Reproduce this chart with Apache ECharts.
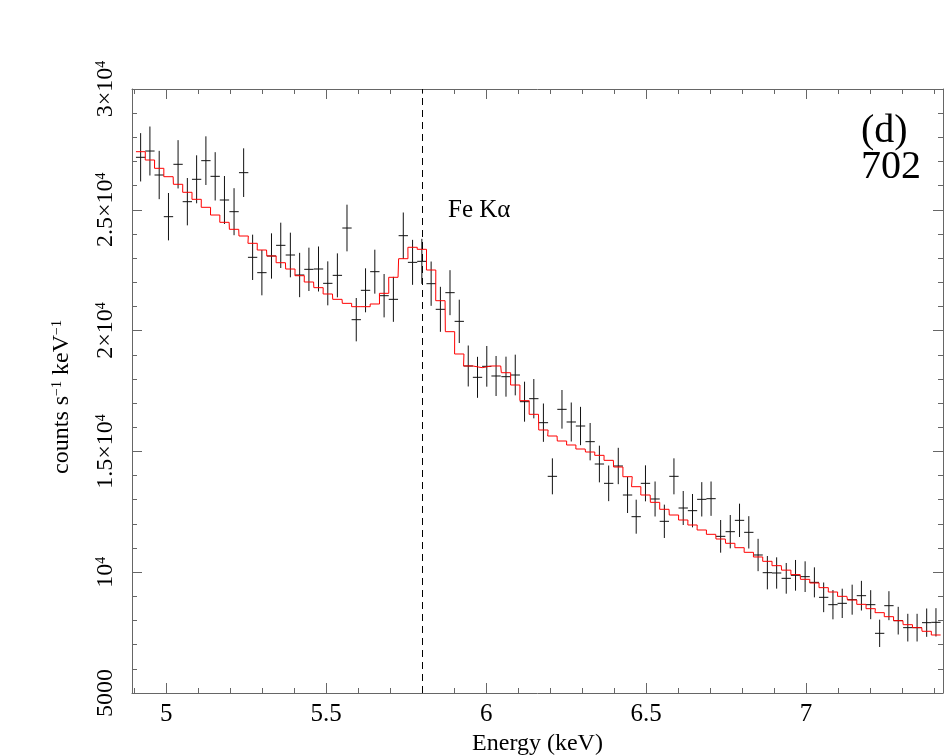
<!DOCTYPE html>
<html>
<head>
<meta charset="utf-8">
<script src="https://cdn.jsdelivr.net/npm/echarts@6/dist/echarts.min.js"></script>
<style>
  html, body { margin: 0; padding: 0; background: #fff; }
  #main { width: 945px; height: 756px; }
</style>
</head>
<body>
<div id="main"></div>
<script>
// spectrum bins (keV)
var energies = [4.920, 4.949, 4.978, 5.007, 5.037, 5.066, 5.095, 5.124, 5.153, 5.182,
  5.212, 5.242, 5.270, 5.299, 5.329, 5.358, 5.388, 5.417, 5.446, 5.476,
  5.505, 5.535, 5.565, 5.594, 5.623, 5.652, 5.681, 5.710, 5.741, 5.770,
  5.799, 5.828, 5.857, 5.887, 5.916, 5.944, 5.973, 6.002, 6.031, 6.062,
  6.091, 6.120, 6.149, 6.179, 6.207, 6.237, 6.266, 6.295, 6.325, 6.354,
  6.383, 6.413, 6.442, 6.469, 6.498, 6.528, 6.557, 6.587, 6.616, 6.645,
  6.674, 6.703, 6.733, 6.763, 6.792, 6.821, 6.850, 6.879, 6.908, 6.938,
  6.967, 6.997, 7.026, 7.055, 7.084, 7.113, 7.144, 7.173, 7.202, 7.230,
  7.259, 7.288, 7.318, 7.347, 7.377, 7.406];
var binHalfWidth = 0.0146;

// observed counts s^-1 keV^-1
var counts = [27173, 27433, 26440, 24715, 26883, 25336, 26262, 27034, 26385, 25405,
  24922, 26537, 23033, 22398, 23088, 23529, 23129, 22301, 22536, 22550,
  21956, 22287, 24246, 20452, 21667, 22439, 21445, 21294, 23929, 22825,
  22867, 21942, 20881, 21570, 20383, 18535, 18066, 18521, 18121, 18093,
  18162, 17058, 17182, 16189, 13968, 16741, 16217, 16051, 15403, 14478,
  13678, 14396, 13195, 12298, 13678, 13030, 12106, 13968, 12657, 12547,
  13016, 13043, 11484, 11677, 12147, 11650, 10712, 9980, 9967, 9746,
  9871, 9815, 9580, 8960, 8656, 8711, 8863, 9028, 8656, 7470,
  8614, 7994, 7705, 7705, 7911, 7925];

// 1-sigma errors
var countErrors = [1000, 1014, 1000, 980, 1000, 980, 993, 1007, 1000, 993,
  973, 1007, 938, 938, 938, 938, 924, 917, 897, 931,
  910, 910, 966, 897, 910, 910, 897, 931, 959, 931,
  931, 917, 931, 931, 897, 848, 848, 842, 828, 828,
  842, 828, 814, 793, 745, 800, 807, 793, 773, 759,
  738, 752, 745, 704, 745, 724, 690, 745, 704, 690,
  711, 711, 676, 690, 690, 669, 669, 690, 648, 635,
  635, 635, 621, 614, 607, 607, 621, 614, 600, 566,
  600, 573, 573, 573, 586, 586];

// folded model
var model = [27405, 27061, 26717, 26370, 26055, 25724, 25434, 25103, 24784, 24482,
  24192, 23915, 23613, 23336, 23088, 22810, 22549, 22272, 22011, 21777,
  21515, 21294, 21128, 20990, 20990, 21101, 21543, 22206, 22976, 23448,
  23365, 22508, 21238, 19955, 19032, 18535, 18466, 18535, 18535, 18257,
  17748, 17100, 16535, 15886, 15637, 15430, 15265, 15099, 14975, 14837,
  14630, 14354, 13953, 13539, 13195, 12892, 12603, 12367, 12160, 11954,
  11747, 11568, 11374, 11196, 11014, 10823, 10630, 10450, 10270, 10085,
  9900, 9705, 9553, 9360, 9180, 9001, 8849, 8670, 8490, 8325,
  8159, 7994, 7828, 7705, 7554, 7401];

var xMajorTicks = [5, 5.5, 6, 6.5, 7];
var xMinorTicks = [4.9, 5, 5.1, 5.2, 5.3, 5.4, 5.5, 5.6, 5.7, 5.8, 5.9, 6, 6.1, 6.2, 6.3,
  6.4, 6.5, 6.6, 6.7, 6.8, 6.9, 7, 7.1, 7.2, 7.3, 7.4];
var yMajorTicks = [5000, 10000, 15000, 20000, 25000, 30000];
var yTickLabels = ['5000', '10{sup|4}', '1.5×10{sup|4}', '2×10{sup|4}', '2.5×10{sup|4}', '3×10{sup|4}'];
var yMinorTicks = [5000, 6000, 7000, 8000, 9000, 10000, 11000, 12000, 13000, 14000, 15000,
  16000, 17000, 18000, 19000, 20000, 21000, 22000, 23000, 24000, 25000,
  26000, 27000, 28000, 29000, 30000];
var lineEnergy = 5.8;

var xMin = 4.893, xMax = 7.428, yMin = 5000, yMax = 30000;
var serif = 'Liberation Serif';
var axisGrey = '#666';

var pointData = energies.map(function (e, i) { return [e, counts[i], countErrors[i]]; });
var modelSteps = [];
energies.forEach(function (e, i) {
    modelSteps.push([e - binHalfWidth, model[i]]);
    modelSteps.push([e + binHalfWidth, model[i]]);
});

function xAxisDef(pos, ticks, len, withLine, withLabel) {
    return {
        type: 'value', position: pos, min: xMin, max: xMax,
        axisLine: { show: withLine, onZero: false, lineStyle: { color: axisGrey, width: 1 } },
        axisTick: { inside: true, length: len, customValues: ticks, lineStyle: { color: axisGrey } },
        axisLabel: withLabel ? {
            customValues: xMajorTicks, margin: 9, color: '#000',
            fontFamily: serif, fontSize: 25
        } : { show: false },
        splitLine: { show: false },
        name: withLabel ? 'Energy (keV)' : '',
        nameLocation: 'middle', nameGap: 38,
        nameTextStyle: { fontFamily: serif, fontSize: 24, color: '#000' }
    };
}
function yAxisDef(pos, ticks, len, withLine, withLabel) {
    return {
        type: 'value', position: pos, min: yMin, max: yMax,
        axisLine: { show: withLine, onZero: false, lineStyle: { color: axisGrey, width: 1 } },
        axisTick: { inside: true, length: len, customValues: ticks, lineStyle: { color: axisGrey } },
        axisLabel: withLabel ? {
            customValues: yMajorTicks, rotate: 90, margin: 14, color: '#000',
            fontFamily: serif, fontSize: 24,
            formatter: function (v) { return yTickLabels[yMajorTicks.indexOf(v)]; },
            rich: { sup: { fontSize: 14, fontFamily: serif, verticalAlign: 'top', color: '#000' } }
        } : { show: false },
        splitLine: { show: false },
        name: withLabel ? 'counts s{sup|−1} keV{sup|−1}' : '',
        nameLocation: 'middle', nameGap: 58,
        nameTextStyle: {
            fontFamily: serif, fontSize: 24, color: '#000', padding: [0, 12, 0, 0],
            rich: { sup: { fontSize: 14, fontFamily: serif, verticalAlign: 'top', color: '#000' } }
        }
    };
}

var chart = echarts.init(document.getElementById('main'));
var option = {
    backgroundColor: '#fff',
    animation: false,
    grid: { left: 132, right: 2, top: 89, bottom: 63, outerBoundsMode: 'none', containLabel: false },
    xAxis: [
        xAxisDef('bottom', xMajorTicks, 10, true, true),
        xAxisDef('bottom', xMinorTicks, 5, false, false),
        xAxisDef('top', xMajorTicks, 10, true, false),
        xAxisDef('top', xMinorTicks, 5, false, false)
    ],
    yAxis: [
        yAxisDef('left', yMajorTicks, 10, true, true),
        yAxisDef('left', yMinorTicks, 5, false, false),
        yAxisDef('right', yMajorTicks, 10, true, false),
        yAxisDef('right', yMinorTicks, 5, false, false)
    ],
    graphic: [
        {
            type: 'text', left: 448, top: 198,
            style: { text: 'Fe Kα', fontFamily: serif, fontSize: 25, fill: '#000' }
        },
        {
            type: 'text', right: 24, top: 111,
            style: { text: '(d)\n702', fontFamily: serif, fontSize: 40, lineHeight: 36, fill: '#000', align: 'center' }
        }
    ],
    series: [
        {
            type: 'custom',
            name: 'data',
            clip: true,
            data: pointData,
            encode: { x: 0, y: 1 },
            renderItem: function (params, api) {
                var e = api.value(0), v = api.value(1), err = api.value(2);
                var lo = api.coord([e, v - err]);
                var hi = api.coord([e, v + err]);
                var l = api.coord([e - binHalfWidth, v]);
                var r = api.coord([e + binHalfWidth, v]);
                var st = { stroke: '#111', lineWidth: 1 };
                return {
                    type: 'group',
                    children: [
                        { type: 'line', shape: { x1: lo[0], y1: lo[1], x2: hi[0], y2: hi[1] }, style: st },
                        { type: 'line', shape: { x1: l[0], y1: l[1], x2: r[0], y2: r[1] }, style: st }
                    ]
                };
            },
            z: 2
        },
        {
            type: 'line',
            name: 'model',
            data: modelSteps,
            showSymbol: false,
            symbol: 'none',
            lineStyle: { color: '#ff0000', width: 1 },
            z: 3,
            markLine: {
                silent: true,
                symbol: ['none', 'none'],
                label: { show: false },
                lineStyle: { color: '#000', type: [7, 5], width: 1 },
                data: [{ xAxis: lineEnergy }]
            }
        }
    ]
};
chart.setOption(option);
window.addEventListener('resize', function () { chart.resize(); });
</script>
</body>
</html>
